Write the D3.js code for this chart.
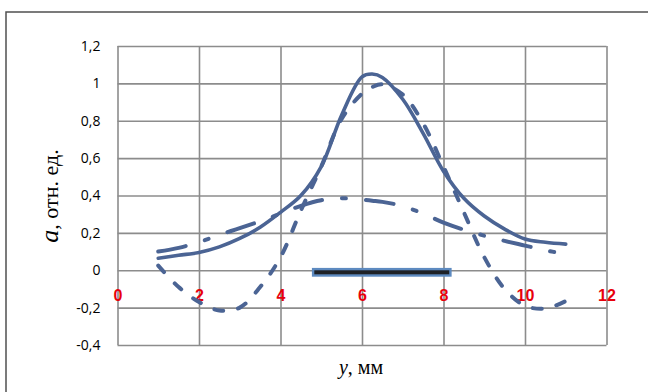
<!DOCTYPE html>
<html>
<head>
<meta charset="utf-8">
<script src="https://cdn.jsdelivr.net/npm/d3@7/dist/d3.min.js"></script>
<style>
  html, body { margin: 0; padding: 0; background: #fff; }
  svg { display: block; }
</style>
</head>
<body>
<svg id="chart" width="648" height="392"></svg>
<script>
// ---- data ----
const yPositions = [1, 1.5, 2, 2.5, 3, 3.5, 4, 4.5, 5, 5.5, 6, 6.25, 6.5, 7, 7.5, 8, 8.5, 9, 9.5, 10, 10.5, 11];
const solidSeries = [0.064, 0.08, 0.095, 0.125, 0.17, 0.23, 0.31, 0.40, 0.555, 0.83, 1.035, 1.05, 1.032, 0.915, 0.733, 0.53, 0.385, 0.29, 0.22, 0.167, 0.15, 0.14];
const dashSeries = [0.025, -0.09, -0.17, -0.215, -0.2, -0.09, 0.07, 0.32, 0.555, 0.81, 0.945, 0.98, 0.995, 0.94, 0.786, 0.555, 0.31, 0.07, -0.10, -0.19, -0.205, -0.165];
const dashDotSeries = [0.1, 0.12, 0.15, 0.19, 0.225, 0.262, 0.303, 0.345, 0.375, 0.385, 0.378, 0.372, 0.366, 0.343, 0.303, 0.255, 0.217, 0.185, 0.157, 0.132, 0.107, 0.086];
const barRange = [4.8, 8.17];
const barLevel = -0.011;
const xTickValues = [0, 2, 4, 6, 8, 10, 12];
const xTickLabels = ["0", "2", "4", "6", "8", "10", "12"];
const yTickValues = [-0.4, -0.2, 0, 0.2, 0.4, 0.6, 0.8, 1, 1.2];
const yTickLabels = ["-0,4", "-0,2", "0", "0,2", "0,4", "0,6", "0,8", "1", "1,2"];

// ---- layout ----
const svg = d3.select("#chart");
const pLeft = 117.5, pRight = 606.5, pTop = 46, pBottom = 345;
const x = d3.scaleLinear().domain([0, 12]).range([pLeft, pRight]);
const y = d3.scaleLinear().domain([-0.4, 1.2]).range([pBottom, pTop]);
const lineColor = "#4b6494";
const gridColor = "#8c8c8c";

// outer frame
svg.append("rect")
  .attr("x", 6).attr("y", 12).attr("width", 700).attr("height", 500)
  .attr("fill", "none").attr("stroke", "#505050").attr("stroke-width", 1.5);

// horizontal grid + y labels
const yAxis = d3.axisLeft(y)
  .tickValues(yTickValues)
  .tickSize(-(pRight - pLeft))
  .tickPadding(17)
  .tickFormat((d, i) => yTickLabels[i]);
const gy = svg.append("g").attr("transform", `translate(${pLeft},0)`).call(yAxis);
gy.select(".domain").remove();
gy.selectAll(".tick line").attr("stroke", gridColor).attr("stroke-width", 1.6);
gy.selectAll(".tick text")
  .attr("fill", "#000")
  .style("font-family", "'Open Sans', 'Liberation Sans', sans-serif")
  .style("font-size", "14px");

// vertical grid
const xGrid = d3.axisBottom(x)
  .tickValues(xTickValues)
  .tickSize(-(pBottom - pTop))
  .tickFormat("");
const gx = svg.append("g").attr("transform", `translate(0,${pBottom})`).call(xGrid);
gx.select(".domain").remove();
gx.selectAll(".tick line").attr("stroke", gridColor).attr("stroke-width", 1.6);

// x labels (red, at zero line)
const xLab = d3.axisBottom(x)
  .tickValues(xTickValues)
  .tickSize(0)
  .tickPadding(19)
  .tickFormat((d, i) => xTickLabels[i]);
const gxl = svg.append("g").attr("transform", `translate(0,${y(0)})`).call(xLab);
gxl.select(".domain").remove();
gxl.selectAll(".tick text")
  .attr("fill", "#e8000b")
  .style("font-family", "'Liberation Sans', sans-serif")
  .style("font-weight", "bold")
  .style("font-size", "16px");

// bar on the zero line
svg.append("rect")
  .attr("x", x(barRange[0]))
  .attr("y", y(barLevel) - 3.2)
  .attr("width", x(barRange[1]) - x(barRange[0]))
  .attr("height", 6.4)
  .attr("fill", "#1e2126")
  .attr("stroke", "#5d8ac0")
  .attr("stroke-width", 2.4);

// series
const pts = vals => yPositions.map((p, i) => [p, vals[i]]);
const line = d3.line().x(d => x(d[0])).y(d => y(d[1])).curve(d3.curveCatmullRom.alpha(0.5));

svg.append("path").attr("d", line(pts(dashDotSeries)))
  .attr("fill", "none").attr("stroke", lineColor).attr("stroke-width", 4)
  .attr("stroke-linecap", "round").attr("stroke-dasharray", "28,20,4,20");
svg.append("path").attr("d", line(pts(dashSeries)))
  .attr("fill", "none").attr("stroke", lineColor).attr("stroke-width", 4)
  .attr("stroke-linecap", "round").attr("stroke-dasharray", "9,15");
svg.append("path").attr("d", line(pts(solidSeries)))
  .attr("fill", "none").attr("stroke", lineColor).attr("stroke-width", 3.6)
  .attr("stroke-linecap", "round");

// axis titles
const yTitle = svg.append("text")
  .attr("transform", "translate(58,196) rotate(-90)")
  .attr("text-anchor", "middle")
  .style("font-family", "'Liberation Serif', 'DejaVu Serif', serif")
  .style("font-size", "22px")
  .attr("fill", "#000");
yTitle.append("tspan").style("font-style", "italic").style("font-size", "26px").text("a");
yTitle.append("tspan").text(", отн. ед.");

const xTitle = svg.append("text")
  .attr("x", 361).attr("y", 374)
  .attr("text-anchor", "middle")
  .style("font-family", "'Liberation Serif', 'DejaVu Serif', serif")
  .style("font-size", "20px")
  .attr("fill", "#000");
xTitle.append("tspan").style("font-style", "italic").text("y");
xTitle.append("tspan").text(", мм");
</script>
</body>
</html>
